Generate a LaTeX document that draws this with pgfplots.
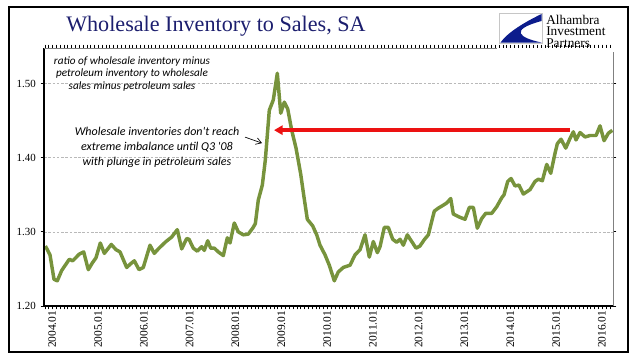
\documentclass[border=0pt]{standalone}
\usepackage{pgfplots}
\pgfplotsset{compat=1.18}
\usetikzlibrary{arrows.meta}
\usepackage{fontspec}
\setmainfont{Liberation Serif}
\newfontfamily\carlito{Carlito}
\definecolor{olive}{RGB}{119,147,60}
\definecolor{titleblue}{RGB}{28,30,110}
\definecolor{logoblue}{RGB}{12,28,140}
\definecolor{arrred}{RGB}{236,18,18}
\begin{document}
\begin{tikzpicture}[x=0.75pt,y=-0.75pt]
\path[use as bounding box] (0,0) rectangle (641,358);
\draw[black,line width=1.1pt] (9,7) rectangle (628,352);
\node[anchor=west,inner sep=0,font=\fontsize{16.6}{19}\selectfont,text=titleblue] at (66,26) {Wholesale Inventory to Sales, SA};
\begin{axis}[
  at={(33pt,-229.5pt)}, anchor=south west,
  width=426.75pt, height=193.5pt, scale only axis,
  xmin=-0.26, xmax=148.8, ymin=1.2, ymax=1.548,
  axis line style={draw=none},
  ytick={1.2,1.3,1.4,1.5},
  yticklabels={1.20,1.30,1.40,1.50},
  ymajorgrids,
  grid style={gray!55,line width=0.5pt,dash pattern=on 2pt off 1.2pt},
  xtick={0,1,...,148},
  xticklabels={},
  extra x ticks={1.9,13.9,...,145.9},
  extra x tick labels={2004.01,2005.01,2006.01,2007.01,2008.01,2009.01,2010.01,2011.01,2012.01,2013.01,2014.01,2015.01,2016.01},
  extra x tick style={major tick length=0pt, grid=none},
  tick align=outside,
  major tick length=2.6pt,
  tick style={black,line width=0.6pt},
  xticklabel style={rotate=90,anchor=east,font=\fontsize{8.6}{9}\selectfont},
  yticklabel style={font=\fontsize{8.2}{9}\selectfont},
  /pgf/number format/assume math mode=true,
  clip=false,
]
\addplot[olive,line width=2.6pt,line join=round] coordinates {
(0.1,1.281) (1.31,1.269) (2.36,1.236) (3.22,1.234) (4.38,1.248) (6.37,1.263) (7.26,1.261) (8.99,1.270) (10.14,1.273) (11.34,1.249)
(12.39,1.258) (13.36,1.265) (14.49,1.285) (15.54,1.271) (17.37,1.283) (18.60,1.276) (19.65,1.273) (21.40,1.252) (22.45,1.257) (23.40,1.261)
(24.63,1.249) (25.75,1.252) (27.51,1.282) (28.63,1.271) (29.87,1.278) (31.70,1.287) (33.19,1.293) (34.66,1.303) (35.81,1.277) (37.12,1.291)
(37.73,1.290) (38.85,1.278) (39.90,1.274) (41.05,1.280) (41.73,1.275) (42.63,1.288) (43.41,1.278) (44.36,1.278) (45.40,1.273) (46.71,1.268)
(47.76,1.292) (48.47,1.285) (49.59,1.312) (50.64,1.300) (51.95,1.296) (53.26,1.297) (54.41,1.305) (55.10,1.311) (55.88,1.343) (56.93,1.363)
(57.72,1.397) (58.76,1.464) (59.81,1.478) (60.86,1.514) (61.75,1.460) (62.69,1.475) (63.58,1.466) (64.63,1.437) (65.76,1.413) (66.99,1.378)
(67.85,1.347) (68.72,1.317) (70.13,1.308) (71.18,1.296) (72.05,1.282) (73.36,1.269) (74.48,1.255) (75.79,1.234) (76.84,1.246) (78.15,1.252)
(79.91,1.255) (81.22,1.269) (82.53,1.276) (83.84,1.296) (84.96,1.266) (86.01,1.287) (87.06,1.272) (87.77,1.280) (88.89,1.306) (89.94,1.306)
(91.09,1.290) (92.14,1.286) (93.01,1.290) (93.87,1.282) (94.92,1.296) (96.07,1.287) (97.20,1.278) (98.24,1.281) (99.29,1.289) (100.42,1.296)
(101.99,1.328) (103.04,1.332) (104.35,1.336) (105.24,1.339) (106.29,1.345) (106.97,1.324) (108.54,1.320) (110.03,1.317) (111.16,1.333) (112.21,1.333)
(113.26,1.305) (114.41,1.318) (115.46,1.325) (117.03,1.325) (118.34,1.334) (119.65,1.346) (120.25,1.350) (121.22,1.368) (122.09,1.372) (123.13,1.362)
(124.18,1.363) (125.31,1.351) (127.06,1.357) (128.37,1.368) (129.24,1.371) (130.29,1.369) (131.44,1.391) (132.49,1.379) (133.61,1.406) (134.22,1.419)
(135.18,1.425) (136.42,1.413) (137.36,1.424) (138.41,1.435) (139.11,1.424) (140.16,1.434) (141.47,1.428) (142.78,1.430) (144.36,1.430) (145.40,1.443)
(146.45,1.423) (147.58,1.433) (148.62,1.437)
};
\draw[arrred,line width=2.6pt,-{Triangle[length=6.5pt,width=7pt]}] (axis cs:137.5,1.4372) -- (axis cs:60.0,1.4372);
\draw[black,line width=0.5pt,-{Straight Barb[length=4pt,width=5pt]}] (axis cs:52.4,1.4278) -- (axis cs:56.85,1.4197);
\end{axis}
% axis frame
\draw[black,line width=0.8pt] (44,48) -- (44,306) -- (613.5,306);
\draw[gray,line width=0.6pt] (44,48) -- (497,48);
\draw[gray,line width=0.6pt] (613.5,52) -- (613.5,306);
% annotations
\node[align=center,inner sep=0,font=\carlito\itshape\fontsize{8.4}{9.4}\selectfont] at (132,74) {ratio of wholesale inventory minus\\petroleum inventory to wholesale\\sales minus petroleum sales};
\node[align=center,inner sep=0,font=\carlito\itshape\fontsize{9}{11.25}\selectfont] at (157,147) {Wholesale inventories don\textquotesingle t reach\\extreme imbalance until Q3 \textquotesingle 08\\with plunge in petroleum sales};
% logo
\draw[gray!45,fill=white,line width=0.5pt] (499,13) rectangle (542,43);
\fill[logoblue] (541.5,14) .. controls (525,22) and (508,32) .. (500.5,42.5) -- (541.5,42.5) .. controls (520,38) and (508,30) .. (541.5,21) -- cycle;
\node[anchor=west,inner sep=0,font=\fontsize{10}{10}\selectfont] at (546,19.5) {Alhambra};
\node[anchor=west,inner sep=0,font=\fontsize{10}{10}\selectfont] at (546,31.3) {Investment};
\node[anchor=west,inner sep=0,font=\fontsize{10}{10}\selectfont] at (546,43) {Partners};
\end{tikzpicture}
\end{document}
